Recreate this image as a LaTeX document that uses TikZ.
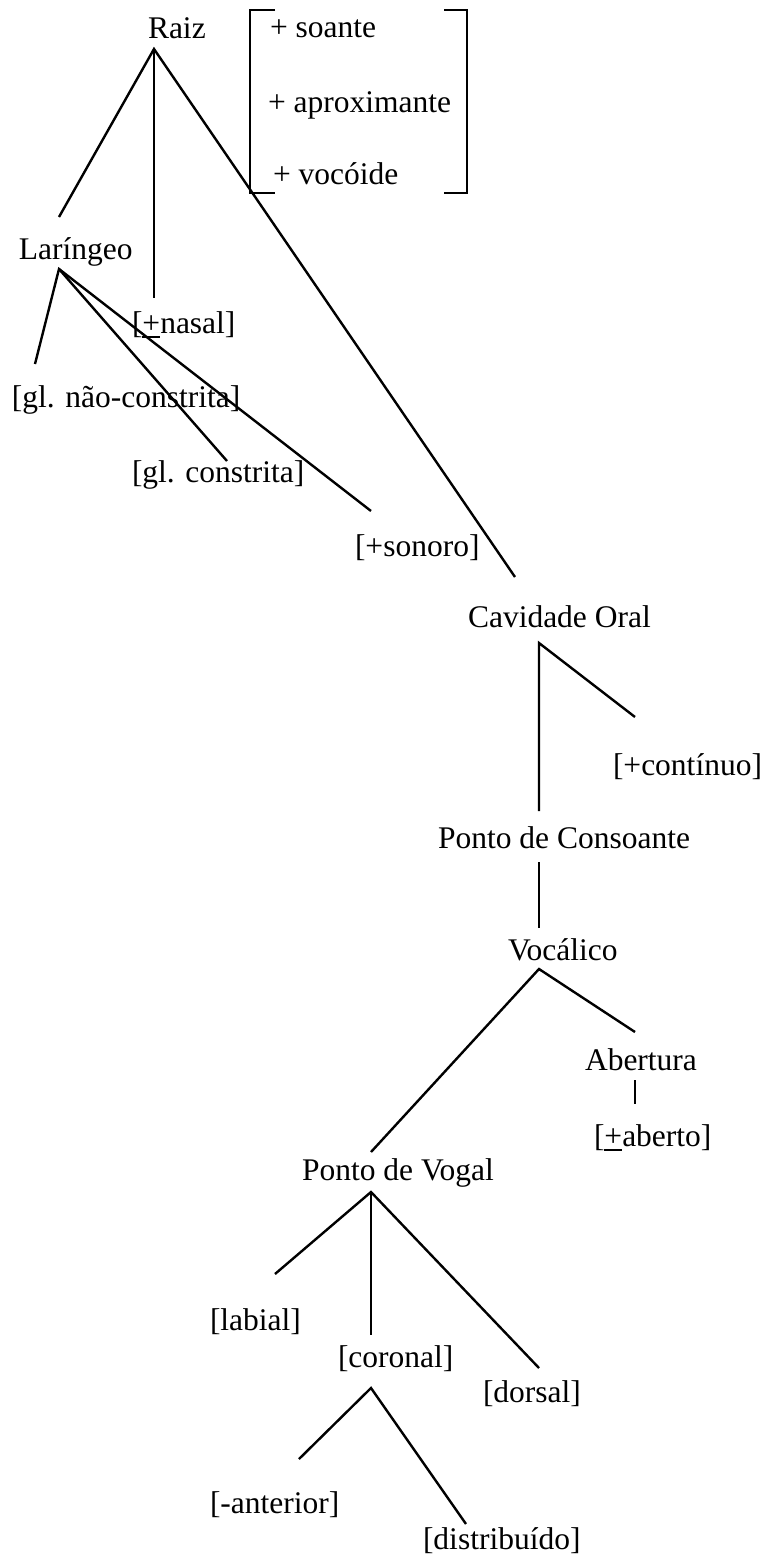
\documentclass[tikz,border=0pt]{standalone}
\usepackage{fontspec}
\setmainfont{Liberation Serif}
% plus sign underlined, for the +/- feature values
\newcommand{\ulplus}{\rlap{\rule[-5pt]{18pt}{1.8pt}}+}
\begin{document}
\begin{tikzpicture}[x=1pt,y=-1pt,
  lbl/.style={anchor=base west, inner sep=0pt, outer sep=0pt,
              font=\fontsize{31.5}{38}\selectfont},
  branch/.style={line width=2.4pt},
  bracket/.style={line width=2.8pt}]
\useasboundingbox (0,0) rectangle (766,1555);

% feature geometry labels
\node[lbl] (raiz)       at (148,39)   {Raiz};
\node[lbl] (soante)     at (270,38)   {+ soante};
\node[lbl] (aprox)      at (268,112)  {+ aproximante};
\node[lbl] (vocoide)    at (273,184)  {+ vocóide};
\node[lbl] (laringeo)   at (19,259)   {Laríngeo};
\node[lbl] (nasal)      at (132,333)  {[\ulplus nasal]};
\node[lbl] (naoconstr)  at (12,407)   {[gl. não-constrita]};
\node[lbl] (constr)     at (132,482)  {[gl. constrita]};
\node[lbl] (sonoro)     at (355,556)  {[+sonoro]};
\node[lbl] (oral)       at (468,627)  {Cavidade Oral};
\node[lbl] (continuo)   at (613,775)  {[+contínuo]};
\node[lbl] (pconsoante) at (438,848)  {Ponto de Consoante};
\node[lbl] (vocalico)   at (508,960)  {Vocálico};
\node[lbl] (abertura)   at (585,1070) {Abertura};
\node[lbl] (aberto)     at (594,1146) {[\ulplus aberto]};
\node[lbl] (pvogal)     at (302,1180) {Ponto de Vogal};
\node[lbl] (labial)     at (210,1330) {[labial]};
\node[lbl] (coronal)    at (338,1367) {[coronal]};
\node[lbl] (dorsal)     at (483,1402) {[dorsal]};
\node[lbl] (anterior)   at (210,1513) {[-anterior]};
\node[lbl] (distrib)    at (423,1549) {[distribuído]};

% branch end points
\coordinate (r0) at (154,49);
\coordinate (r1) at (59,217);
\coordinate (r2) at (154,298);
\coordinate (r3) at (515,577);
\coordinate (l0) at (59,269);
\coordinate (l1) at (35,364);
\coordinate (l2) at (227,461);
\coordinate (l3) at (371,511);
\coordinate (c0) at (539,643);
\coordinate (c1) at (539,811);
\coordinate (c2) at (635,717);
\coordinate (pc1) at (539,862);
\coordinate (pc2) at (539,928);
\coordinate (v0) at (539,969);
\coordinate (v1) at (371,1152);
\coordinate (v2) at (635,1032);
\coordinate (a1) at (635,1080);
\coordinate (a2) at (635,1104);
\coordinate (pv0) at (371,1192);
\coordinate (pv1) at (275,1274);
\coordinate (pv2) at (371,1335);
\coordinate (pv3) at (539,1368);
\coordinate (co0) at (371,1388);
\coordinate (co1) at (299,1459);
\coordinate (co2) at (466,1524);

% tree branches
\draw[branch] (r1) -- (r0) -- (r3);
\draw[branch] (r0) -- (r2);
\draw[branch] (l1) -- (l0) -- (l3);
\draw[branch] (l0) -- (l2);
\draw[branch] (c1) -- (c0) -- (c2);
\draw[branch] (pc1) -- (pc2);
\draw[branch] (v1) -- (v0) -- (v2);
\draw[branch] (a1) -- (a2);
\draw[branch] (pv1) -- (pv0) -- (pv3);
\draw[branch] (pv0) -- (pv2);
\draw[branch] (co1) -- (co0) -- (co2);

% feature matrix brackets
\draw[bracket] (275,10) -- (250,10) -- (250,193) -- (275,193);
\draw[bracket] (444,10) -- (467,10) -- (467,193) -- (444,193);
\end{tikzpicture}
\end{document}
